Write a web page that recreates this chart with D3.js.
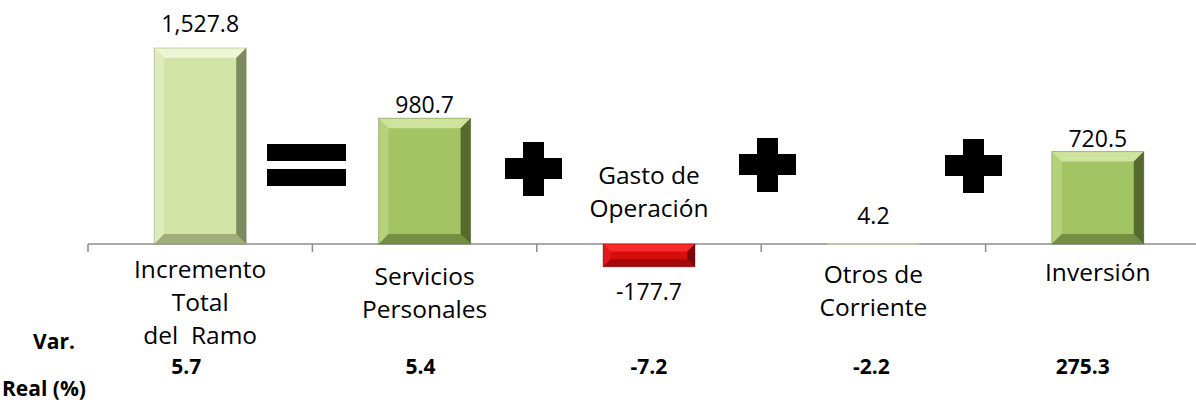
<!DOCTYPE html>
<html>
<head>
<meta charset="utf-8">
<script src="https://cdn.jsdelivr.net/npm/d3@7"></script>
<style>
  body { margin: 0; background: #fff; }
  text { font-family: "Open Sans", Lato, sans-serif; fill: #000; white-space: pre; }
</style>
</head>
<body>
<svg id="chart" width="1196" height="411"></svg>
<script>
// Data
const categories = ["total", "servicios", "gasto", "otros", "inversion"];
const categoryLabels = [["Incremento", "Total", "del  Ramo"],
                        ["Servicios", "Personales"],
                        ["Gasto de", "Operación"],
                        ["Otros de", "Corriente"],
                        ["Inversión"]];
const values = [1527.8, 980.7, -177.7, 4.2, 720.5];
const valueLabels = ["1,527.8", "980.7", "-177.7", "4.2", "720.5"];
const varReal = ["5.7", "5.4", "-7.2", "-2.2", "275.3"];
const operators = ["=", "+", "+", "+"];

const barStyle = [
    {base: "#d2e3a6", light: "#f2f8dc", dark: "#6f7a52"},
    {base: "#a3c463", light: "#d6eaa8", dark: "#465a25"},
    {base: "#d80c0c", light: "#ff3030", dark: "#6e0505"},
    {base: "#d2e3a6", light: "#f2f8dc", dark: "#6f7a52"},
    {base: "#a3c463", light: "#d6eaa8", dark: "#465a25"}
];

const svg = d3.select("#chart");
const baseY = 244;

const x = d3.scaleBand()
    .domain(categories)
    .range([88, 88 + 5 * 224.4])
    .paddingInner(0.59)
    .paddingOuter(0.295);

const y = d3.scaleLinear()
    .domain([0, 1527.8])
    .range([baseY, 48]);

// axis: baseline with ticks at band boundaries
const axisG = svg.append("g").attr("transform", `translate(0, ${baseY})`);
axisG.append("line")
    .attr("x1", 88).attr("x2", 1196)
    .attr("stroke", "#8c8c8c").attr("stroke-width", 1.5);
axisG.selectAll("line.tick")
    .data(categories)
    .enter()
    .append("line")
    .attr("class", "tick")
    .attr("x1", d => x(d) - x.step() * x.paddingOuter())
    .attr("x2", d => x(d) - x.step() * x.paddingOuter())
    .attr("y1", 0).attr("y2", 8)
    .attr("stroke", "#8c8c8c").attr("stroke-width", 1.5);

// bars with bevel
const bev = 10;
categories.forEach((c, i) => {
    const v = values[i];
    const x0 = x(c), w = x.bandwidth();
    const y0 = Math.min(y(v), y(0)), h = Math.abs(y(v) - y(0));
    const st = barStyle[i];
    const g = svg.append("g");
    g.append("rect")
        .attr("x", x0).attr("y", y0)
        .attr("width", w).attr("height", Math.max(h, 1))
        .attr("fill", st.base);
    if (h < 4) return;
    const b = Math.min(bev, h / 3);
    const x1 = x0 + w, y1 = y0 + h;
    g.append("polygon").attr("points", `${x0},${y0} ${x1},${y0} ${x1-b},${y0+b} ${x0+b},${y0+b}`).attr("fill", st.light).attr("opacity", 0.85);
    g.append("polygon").attr("points", `${x0},${y0} ${x0},${y1} ${x0+b},${y1-b} ${x0+b},${y0+b}`).attr("fill", st.light).attr("opacity", 0.35);
    g.append("polygon").attr("points", `${x1},${y0} ${x1},${y1} ${x1-b},${y1-b} ${x1-b},${y0+b}`).attr("fill", st.dark).attr("opacity", 0.85);
    g.append("polygon").attr("points", `${x0},${y1} ${x1},${y1} ${x1-b},${y1-b} ${x0+b},${y1-b}`).attr("fill", st.dark).attr("opacity", 0.5);
    g.append("rect")
        .attr("x", x0).attr("y", y0)
        .attr("width", w).attr("height", h)
        .attr("fill", "none").attr("stroke", st.dark).attr("stroke-opacity", 0.35).attr("stroke-width", 1);
});

// value labels
const valueDy = [-16, -5, 33, -19, -5];
svg.selectAll("text.value")
    .data(values)
    .enter()
    .append("text")
    .attr("class", "value")
    .attr("x", (d, i) => x(categories[i]) + x.bandwidth() / 2)
    .attr("y", (d, i) => y(d) + valueDy[i])
    .attr("text-anchor", "middle")
    .style("font-size", "23px")
    .text((d, i) => valueLabels[i]);

// category labels
const labelTop = [278, 285, 184, 283, 281];
const lineH = 33;
categoryLabels.forEach((lines, i) => {
    const t = svg.append("text")
        .attr("text-anchor", "middle")
        .style("font-size", "24.5px");
    lines.forEach((l, j) => {
        t.append("tspan")
            .attr("x", x(categories[i]) + x.bandwidth() / 2)
            .attr("y", labelTop[i] + j * lineH)
            .text(l);
    });
});

// Var. Real row
svg.append("text").attr("x", 54).attr("y", 349).attr("text-anchor", "middle")
    .style("font-size", "21px").style("font-weight", "bold").text("Var.");
svg.append("text").attr("x", 44).attr("y", 396).attr("text-anchor", "middle")
    .style("font-size", "21px").style("font-weight", "bold").text("Real (%)");
const varDx = [-14, -4, 0, -2, -15];
svg.selectAll("text.var")
    .data(varReal)
    .enter()
    .append("text")
    .attr("class", "var")
    .attr("x", (d, i) => x(categories[i]) + x.bandwidth() / 2 + varDx[i])
    .attr("y", 374)
    .attr("text-anchor", "middle")
    .style("font-size", "21px")
    .style("font-weight", "bold")
    .text(d => d);

// operators between bars
const opCenters = [[306, 165], [533, 169], [767, 165], [973, 166]];
operators.forEach((op, i) => {
    const [cx, cy] = opCenters[i];
    const g = svg.append("g").attr("transform", `translate(${cx}, ${cy})`);
    if (op === "=") {
        g.append("rect").attr("x", -39).attr("y", -21).attr("width", 79).attr("height", 17).attr("fill", "#000");
        g.append("rect").attr("x", -39).attr("y", 4).attr("width", 79).attr("height", 17).attr("fill", "#000");
    } else {
        g.append("rect").attr("x", -28).attr("y", -11).attr("width", 57).attr("height", 21).attr("fill", "#000");
        g.append("rect").attr("x", -10).attr("y", -27).attr("width", 21).attr("height", 54).attr("fill", "#000");
    }
});
</script>
</body>
</html>
